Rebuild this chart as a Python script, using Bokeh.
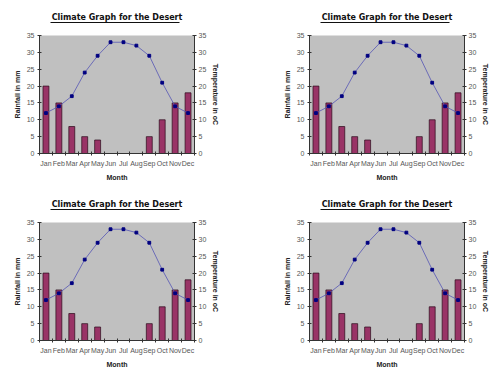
from bokeh.plotting import figure
from bokeh.models import LinearAxis, Range1d, FixedTicker
from bokeh.layouts import column, row
from bokeh.embed import file_html
from bokeh.resources import INLINE

months = ["Jan", "Feb", "Mar", "Apr", "May", "Jun", "Jul", "Aug", "Sep", "Oct", "Nov", "Dec"]
rainfall = [20, 15, 8, 5, 4, 0, 0, 0, 5, 10, 15, 18]
temperature = [12, 14, 17, 24, 29, 33, 33, 32, 29, 21, 14, 12]
y_ticks = [0, 5, 10, 15, 20, 25, 30, 35]
title_text = "Climate Graph for the Desert"
y_label_left = "Rainfall in mm"
y_label_right = "Temperature in oC"
x_label = "Month"

centers = [i + 0.5 for i in range(len(months))]
bounds = list(range(len(months) + 1))

FONT = "Liberation Sans"
TICK_COL = "#555555"
AXIS_COL = "#333333"


def style_axis(ax):
    ax.axis_line_color = AXIS_COL
    ax.major_tick_line_color = AXIS_COL
    ax.minor_tick_line_color = AXIS_COL
    ax.major_tick_in = 2
    ax.major_tick_out = 2
    ax.major_label_text_font = FONT
    ax.major_label_text_font_size = "7px"
    ax.major_label_text_color = TICK_COL
    ax.axis_label_text_font = FONT
    ax.axis_label_text_font_size = "7px"
    ax.axis_label_text_font_style = "bold"
    ax.axis_label_text_color = "#222222"


def make_chart(width, height, right_border, bottom_border):
    p = figure(width=width, height=height, output_backend="svg", toolbar_location=None,
               x_range=Range1d(0, 12), y_range=Range1d(0, 35),
               min_border_left=39, min_border_right=right_border,
               min_border_top=35, min_border_bottom=bottom_border)
    p.extra_y_ranges = {"temp": Range1d(0, 35)}
    p.background_fill_color = "#C0C0C0"
    p.border_fill_color = "white"
    p.outline_line_color = None
    p.grid.visible = False

    xa = p.xaxis[0]
    xa.ticker = FixedTicker(ticks=centers, minor_ticks=bounds)
    xa.major_label_overrides = {c: m for c, m in zip(centers, months)}
    style_axis(xa)
    xa.major_tick_in = 0
    xa.major_tick_out = 0
    xa.minor_tick_in = 2
    xa.minor_tick_out = 2
    xa.major_label_standoff = 4
    xa.axis_label = x_label
    xa.axis_label_standoff = 4

    ya = p.yaxis[0]
    ya.ticker = FixedTicker(ticks=y_ticks)
    style_axis(ya)
    ya.major_label_standoff = 3
    ya.axis_label = y_label_left
    ya.axis_label_standoff = 3

    yr = LinearAxis(y_range_name="temp", ticker=FixedTicker(ticks=y_ticks))
    style_axis(yr)
    yr.major_label_standoff = 2
    yr.axis_label = y_label_right
    yr.axis_label_standoff = 3
    p.add_layout(yr, "right")

    # title: spacer axis, then an axis whose label is the title and whose line underlines it
    spacer = LinearAxis(ticker=FixedTicker(ticks=[0]), axis_line_color=None,
                        major_tick_out=13, major_tick_in=0, major_label_standoff=0,
                        major_tick_line_color="white", major_label_text_font_size="0px",
                        major_label_overrides={0: ""})
    tt = LinearAxis(ticker=FixedTicker(ticks=[]), bounds=(0.85, 10.84),
                    axis_line_color="#111111", axis_line_width=1,
                    major_tick_out=0, major_tick_in=0, major_label_standoff=0,
                    axis_label=title_text, axis_label_standoff=1,
                    axis_label_text_font="DejaVu Sans", axis_label_text_font_size="8px",
                    axis_label_text_font_style="bold", axis_label_text_color="#111111")
    p.add_layout(spacer, "above")
    p.add_layout(tt, "above")

    p.vbar(x=centers, top=rainfall, width=0.46, fill_color="#993366",
           line_color="#2a0a1a", line_width=0.7)
    p.line(x=centers, y=temperature, y_range_name="temp", line_color="#5555B5", line_width=0.8)
    p.scatter(x=centers, y=temperature, y_range_name="temp", marker="square", size=2.8,
              fill_color="#000080", line_color="#000080")
    return p


p1 = make_chart(270, 187, 76, 34)
p2 = make_chart(230, 187, 36, 34)
p3 = make_chart(270, 188, 76, 35)
p4 = make_chart(230, 188, 36, 35)

layout = column(row(p1, p2), row(p3, p4))

open("out.html", "w").write(file_html(layout, INLINE))
